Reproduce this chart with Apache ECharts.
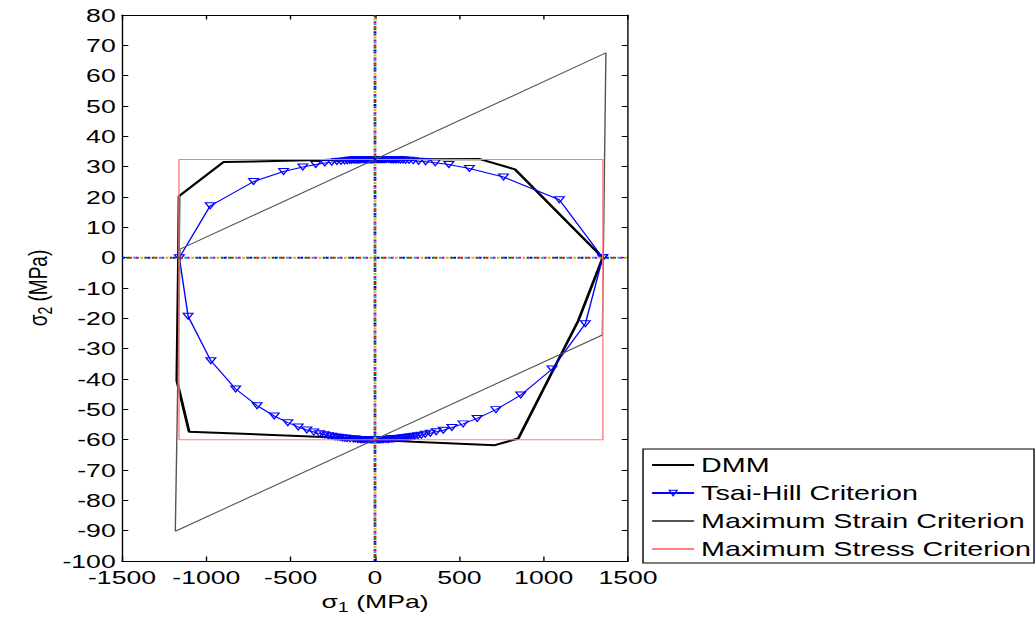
<!DOCTYPE html>
<html>
<head>
<meta charset="utf-8">
<script src="https://cdn.jsdelivr.net/npm/echarts@6/dist/echarts.min.js"></script>
<style>
  html, body { margin: 0; padding: 0; background: #fff; overflow: hidden; }
  /* the figure is laid out narrow and widened horizontally, like the exported figure */
  #chart { width: 740px; height: 619px; transform: scaleX(1.4); transform-origin: 0 0; }
</style>
</head>
<body>
<div id="chart"></div>
<script>
// axis ranges: [min, max, step]
const xRange = [-1500, 1500, 500];
const yRange = [-100, 80, 10];

const seriesNames = ['DMM', 'Tsai-Hill Criterion', 'Maximum Strain Criterion', 'Maximum Stress Criterion'];

// DMM failure envelope (MPa)
const dmmX = [1350, 830, 622, 0, -400, -899, -1162, -1165, -1175, -1102, -345, 0, 225, 711, 850, 1205, 1350];
const dmmY = [0, 29.1, 32.5, 32.4, 32.1, 31.5, 20.3, 0, -40.5, -57.4, -59.0, -60.0, -60.7, -61.8, -59.6, -20.8, 0];

// Tsai-Hill envelope (MPa), traced counter-clockwise from the sigma1 tension point
const thX = [
  1350, 1093, 762, 560, 438, 357, 300, 259, 227, 202, 182, 166, 152, 140, 129, 121, 112, 106, 99, 94, 89, 80, 69, 64, 56, 52, 46, 43, 39, 32, 27, 23, 19, 15, 12, 9, 6, 3, 0,
  -3, -6, -9, -12, -15, -19, -23, -27, -32, -39, -43, -46, -52, -56, -63, -69, -80, -89, -94, -99, -105, -112, -120, -129, -140, -151, -165, -181, -201, -226, -257, -297, -351, -428, -542, -720, -977, -1160,
  -1108, -973, -826, -699, -597, -517, -455, -404, -363, -329, -300, -276, -256, -237, -221, -207, -195, -183, -173, -164, -148, -128, -117, -104, -96, -86, -79, -71, -60, -50, -42, -35, -28, -22, -16, -11, -5, 0,
  5, 11, 16, 22, 28, 35, 42, 50, 60, 71, 79, 86, 96, 104, 117, 128, 148, 163, 172, 182, 194, 206, 221, 236, 255, 275, 298, 328, 363, 405, 456, 522, 606, 717, 864, 1050, 1247, 1350];
const thY = [
  0, 19.1, 26.6, 29.4, 30.7, 31.3, 31.6, 31.8, 32.0, 32.1, 32.1, 32.2, 32.2, 32.3, 32.3, 32.3, 32.3, 32.3, 32.3, 32.4, 32.4, 32.4, 32.4, 32.4, 32.4, 32.4, 32.4, 32.4, 32.4, 32.4, 32.4, 32.4, 32.4, 32.4, 32.4, 32.4, 32.4, 32.4, 32.4,
  32.4, 32.4, 32.4, 32.4, 32.4, 32.3, 32.3, 32.3, 32.3, 32.3, 32.3, 32.3, 32.3, 32.3, 32.3, 32.3, 32.3, 32.3, 32.3, 32.3, 32.2, 32.2, 32.2, 32.2, 32.1, 32.1, 32.0, 31.9, 31.8, 31.7, 31.5, 31.2, 30.7, 29.9, 28.4, 25.1, 17.1, 0,
  -19.3, -34.0, -43.3, -48.8, -52.2, -54.4, -55.8, -56.8, -57.5, -58.0, -58.4, -58.7, -58.9, -59.1, -59.2, -59.3, -59.4, -59.5, -59.5, -59.6, -59.7, -59.8, -59.8, -59.9, -59.9, -59.9, -59.9, -60.0, -60.0, -60.0, -60.0, -60.0, -60.0, -60.0, -60.0, -60.0, -60.0, -60.0,
  -60.0, -60.0, -60.0, -60.0, -60.0, -60.0, -60.0, -59.9, -59.9, -59.9, -59.9, -59.8, -59.8, -59.8, -59.7, -59.6, -59.5, -59.4, -59.4, -59.3, -59.2, -59.1, -59.0, -58.9, -58.7, -58.5, -58.2, -57.9, -57.4, -56.9, -56.0, -54.8, -53.0, -50.1, -45.3, -36.7, -21.8, 0];

// Maximum strain envelope (parallelogram corners, MPa)
const strainX = [-1184, 1348, 1369, -1156, -1184];
const strainY = [-90.2, -25.5, 67.5, 2.8, -90.2];

// Maximum stress envelope (rectangle corners, MPa)
const stressX = [-1162, 1351, 1351, -1162, -1162];
const stressY = [-60, -60, 32.4, 32.4, -60];

// zero reference lines
const zeroVX = [0, 0], zeroVY = [-100, 80];
const zeroHX = [-1500, 1500], zeroHY = [0, 0];
const dotColors = ['#0000ff', '#008000', '#ff0000', '#00bfbf', '#bf00bf', '#bfbf00', '#404040'];

const zip = (xs, ys) => xs.map((x, i) => [x, ys[i]]);
const FONT = 'Liberation Sans, Arial, Helvetica, sans-serif';

const dotSeries = [];
dotColors.forEach((c, k) => {
  [[zeroVX, zeroVY], [zeroHX, zeroHY]].forEach(([xs, ys]) => {
    dotSeries.push({
      type: 'line', data: zip(xs, ys), symbol: 'none', silent: true, z: 10,
      lineStyle: { color: c, width: 2, type: [2, 16.2], dashOffset: -k * 2.6, cap: 'butt' }
    });
  });
});

const tickStyle = { inside: true, length: 4.5, lineStyle: { color: '#000', width: 1 } };
const lineAxis = { onZero: false, lineStyle: { color: '#000', width: 1 } };
const labelStyle = { color: '#000', fontSize: 19, lineHeight: 14, fontFamily: FONT, formatter: v => String(v) };

const nameRich = {
  a: { fontSize: 19, fontFamily: FONT, color: '#000' },
  s: { fontSize: 14, fontFamily: FONT, color: '#000', padding: [12, 0, 0, 0] }
};

const hollowTriangle = { color: 'rgba(255,255,255,0)', borderColor: '#0000ff', borderWidth: 1 };

const chart = echarts.init(document.getElementById('chart'), null, { renderer: 'svg' });
chart.setOption({
  animation: false,
  backgroundColor: '#fff',
  grid: { left: 87.14, right: 291.43, top: 15, bottom: 56, containLabel: false },
  legend: {
    data: [
      { name: seriesNames[0] },
      { name: seriesNames[1], itemStyle: hollowTriangle },
      { name: seriesNames[2] },
      { name: seriesNames[3] }
    ],
    orient: 'vertical',
    left: 459.3, top: 449,
    backgroundColor: '#fff',
    borderColor: '#000', borderWidth: 1,
    padding: [5, 2, 3, 5.5],
    itemWidth: 30, itemHeight: 7, itemGap: 6,
    textStyle: { color: '#000', fontSize: 20.5, fontFamily: FONT, lineHeight: 22 }
  },
  xAxis: [{
    type: 'value', min: xRange[0], max: xRange[1], interval: xRange[2], position: 'bottom',
    axisLine: lineAxis, axisTick: tickStyle, splitLine: { show: false },
    axisLabel: Object.assign({ margin: 9 }, labelStyle),
    name: '{a|σ}{s|1}{a| (MPa)}', nameLocation: 'middle', nameGap: 27,
    nameTextStyle: { rich: nameRich }
  }, {
    type: 'value', min: xRange[0], max: xRange[1], interval: xRange[2], position: 'top',
    axisLine: lineAxis, axisTick: tickStyle, splitLine: { show: false }, axisLabel: { show: false }
  }],
  yAxis: [{
    type: 'value', min: yRange[0], max: yRange[1], interval: yRange[2], position: 'left',
    axisLine: lineAxis, axisTick: tickStyle, splitLine: { show: false },
    axisLabel: Object.assign({ margin: 4.5 }, labelStyle),
    name: '{a|σ}{s|2}{a| (MPa)}', nameLocation: 'middle', nameGap: 47.4, nameRotate: 90,
    nameTextStyle: { rich: nameRich }
  }, {
    type: 'value', min: yRange[0], max: yRange[1], interval: yRange[2], position: 'right',
    axisLine: lineAxis, axisTick: tickStyle, splitLine: { show: false }, axisLabel: { show: false }
  }],
  series: [
    {
      name: seriesNames[0], type: 'line', data: zip(dmmX, dmmY), symbol: 'none', z: 3,
      lineStyle: { color: '#000', width: 2 }, itemStyle: { color: '#000', opacity: 0 }
    },
    {
      name: seriesNames[1], type: 'line', data: zip(thX, thY), z: 4,
      symbol: 'triangle', symbolRotate: 180, symbolSize: [7, 6], showSymbol: true,
      lineStyle: { color: '#0000ff', width: 1 },
      itemStyle: hollowTriangle
    },
    {
      name: seriesNames[2], type: 'line', data: zip(strainX, strainY), symbol: 'none', z: 5,
      lineStyle: { color: '#555555', width: 1 }, itemStyle: { color: '#555555', opacity: 0 }
    },
    {
      name: seriesNames[3], type: 'line', data: zip(stressX, stressY), symbol: 'none', z: 6,
      lineStyle: { color: '#ff7f7f', width: 1 }, itemStyle: { color: '#ff7f7f', opacity: 0 }
    }
  ].concat(dotSeries)
});
</script>
</body>
</html>
